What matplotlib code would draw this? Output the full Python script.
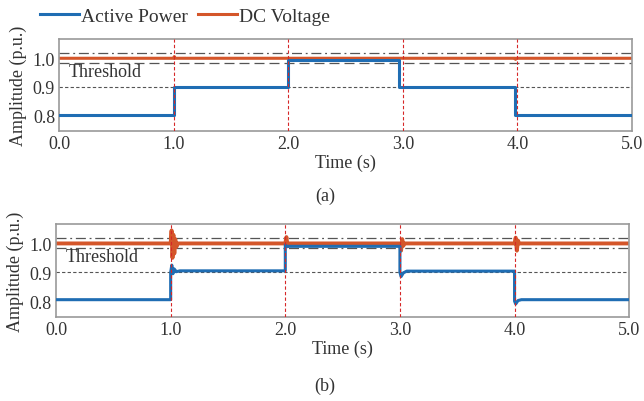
import matplotlib
matplotlib.use('Agg')
import matplotlib.pyplot as plt

plt.rcParams['font.family'] = ['Liberation Serif', 'DejaVu Serif']
plt.rcParams['font.size'] = 13

# (a) waveforms: step values between events
t_a = [0.0, 1.0, 1.0, 2.0, 2.0, 2.97, 2.97, 3.98, 3.98, 5.0]
p_a = [0.80, 0.80, 0.90, 0.90, 0.995, 0.995, 0.90, 0.90, 0.80, 0.80]
vt_a = [0.0, 1.0, 1.005, 1.01, 3.98, 3.985, 3.99, 5.0]
v_a = [1.0, 1.0, 1.006, 1.0, 1.0, 0.996, 1.0, 1.0]

# (b) waveforms with transients
t_b = [0.0, 1.0, 1.0, 1.01, 1.02, 1.03, 1.05, 1.08,
       2.0, 2.0, 2.01, 3.0, 3.0, 3.01, 3.03, 3.06,
       4.0, 4.0, 4.01, 4.03, 4.06, 5.0]
p_b = [0.805, 0.805, 0.90, 0.925, 0.895, 0.912, 0.902, 0.905,
       0.905, 0.995, 0.99, 0.99, 0.90, 0.885, 0.898, 0.904,
       0.904, 0.80, 0.79, 0.802, 0.805, 0.805]
vt_b = [0.0, 1.0, 1.008, 1.016, 1.024, 1.032, 1.04, 1.05, 1.06,
        2.0, 2.01, 2.02, 2.03,
        3.0, 3.01, 3.02, 3.03, 3.04,
        4.0, 4.01, 4.02, 4.03, 4.04, 5.0]
v_b = [1.0, 1.0, 1.045, 0.95, 1.03, 0.965, 1.015, 0.988, 1.0,
       1.0, 1.022, 0.99, 1.0,
       1.0, 0.975, 1.015, 0.992, 1.0,
       1.0, 1.02, 0.975, 1.01, 1.0, 1.0]

events = [1.0, 2.0, 3.0, 4.0]
thr_hi = 1.02
thr_lo = 0.983
xticks = [0.0, 1.0, 2.0, 3.0, 4.0, 5.0]
yticks = [0.8, 0.9, 1.0]

blue = '#1f6db3'
orange = '#d4562a'
txt = '#333333'

fig = plt.figure(figsize=(6.44, 4.02), dpi=100)
ax1 = fig.add_axes([0.092, 0.672, 0.889, 0.228])
ax2 = fig.add_axes([0.087, 0.209, 0.890, 0.231])

for ax, t, p, vt, v in [(ax1, t_a, p_a, vt_a, v_a),
                        (ax2, t_b, p_b, vt_b, v_b)]:
    ax.axhline(0.9, color='#555555', lw=0.8, ls=(0, (3, 2)), zorder=1)
    ax.axhline(thr_hi, color='#555555', lw=0.9, ls=(0, (8, 3, 1.5, 3)), zorder=1)
    if ax is ax1:
        ax.axhline(thr_lo, color='#555555', lw=0.9, ls=(0, (8, 4)), zorder=1)
    else:
        ax.axhline(thr_lo, color='#555555', lw=0.9, ls=(0, (8, 3, 1.5, 3)), zorder=1)
    for e in events:
        ax.axvline(e, color='#d62728', lw=0.8, ls=(0, (3, 2)), zorder=4)
    ax.plot(t, p, color=blue, lw=2.2, zorder=3, label='Active Power')
    ax.plot(vt, v, color=orange, lw=2.2 + (0.6 if ax is ax2 else 0), zorder=2,
            label='DC Voltage')
    ax.set_xlim(0, 5.0)
    ax.set_ylim(0.745, 1.067)
    ax.set_xticks(xticks)
    ax.set_xticklabels(['%.1f' % x for x in xticks])
    ax.set_yticks(yticks)
    ax.set_yticklabels(['%.1f' % y for y in yticks])
    ax.tick_params(length=0, pad=3, labelcolor=txt, labelsize=13)
    for s in ax.spines.values():
        s.set_color('#999999')
        s.set_linewidth(1.2)
    ax.set_xlabel('Time (s)', color=txt, fontsize=13, labelpad=1)
    ax.set_ylabel('Amplitude (p.u.)', color=txt, fontsize=13, labelpad=4)

ax1.text(0.08, 0.952, 'Threshold', color=txt, fontsize=13, va='center')
ax2.text(0.08, 0.955, 'Threshold', color=txt, fontsize=13, va='center')

fig.text(0.505, 0.512, '(a)', ha='center', va='center', color=txt, fontsize=13)
fig.text(0.505, 0.04, '(b)', ha='center', va='center', color=txt, fontsize=13)

h, l = ax1.get_legend_handles_labels()
fig.legend(h, l, loc='center', bbox_to_anchor=(0.287, 0.957), ncol=2,
           frameon=False, handlelength=2.0, handletextpad=0.1,
           columnspacing=0.5, fontsize=14, labelcolor=txt)

fig.savefig('out.png', dpi=100)
